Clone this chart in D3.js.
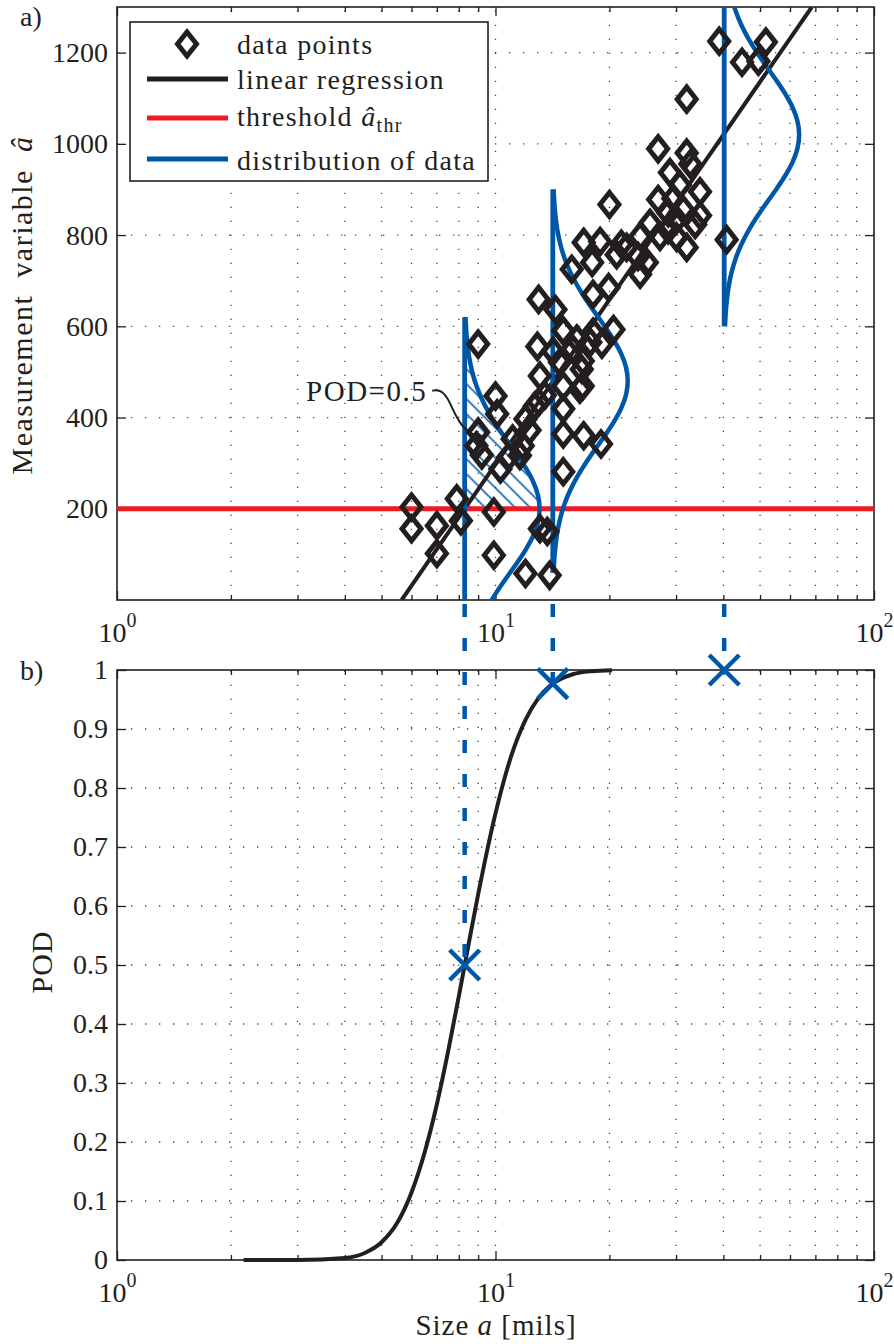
<!DOCTYPE html>
<html>
<head>
<meta charset="utf-8">
<script src="https://cdn.jsdelivr.net/npm/d3@7"></script>
<style>
  body { margin: 0; background: #fff; }
  svg { display: block; font-family: "Liberation Serif", "Times New Roman", serif; }
</style>
</head>
<body>
<svg id="chart"></svg>
<script>
// values
const sizes = [6.0, 6.0, 7.0, 7.0, 7.9, 8.1, 9.9, 9.9, 12.0, 13.9, 13.1, 13.7,
  9.0, 10.0, 10.1, 9.0, 8.9, 9.2, 10.8, 11.8, 12.0, 12.7, 10.3, 11.1,
  13.0, 14.4, 15.1, 12.9, 16.0, 17.0, 14.8, 13.1, 15.1, 17.0, 13.0, 15.1,
  15.1, 17.1, 19.0, 15.1, 16.4, 17.8, 19.1, 20.5, 18.1, 19.9, 18.1, 15.9,
  18.0, 17.1, 18.9, 20.9, 22.2, 24.1, 23.8, 25.1, 24.1, 20.0, 26.9, 28.6,
  31.3, 30.1, 33.7, 28.6, 27.2, 30.1, 32.0, 40.8, 26.9, 32.0, 32.7, 28.9,
  30.7, 34.7, 32.0, 39.0, 44.8, 49.5, 51.8, 16.7, 16.9,
  12.3, 13.5, 11.6, 25.6, 34.7, 14.2, 21.5, 29.5]
const signals = [204, 156, 163, 102, 222, 174, 193, 98, 58, 54, 156, 150,
  561, 447, 408, 368, 338, 318, 313, 338, 397, 425, 287, 353,
  659, 637, 590, 556, 550, 524, 521, 491, 469, 469, 434, 419,
  364, 360, 342, 281, 572, 565, 561, 593, 587, 685, 670, 725,
  740, 784, 786, 757, 773, 797, 753, 740, 714, 867, 878, 849,
  856, 834, 823, 812, 797, 795, 773, 790, 989, 980, 956, 937,
  910, 895, 1098, 1225, 1179, 1181, 1223, 462, 506,
  372, 449, 317, 826, 843, 545, 780, 880]

// regression line end points (size, signal)
const regSize = [5.65, 68.5]
const regSignal = [0, 1300]
const threshold = 200

// distributions of data at three sizes
const distSize = [8.29, 14.17, 40.2]
const distMean = [200, 480, 1020]
const distPod = [0.5, 0.977, 1.0]
// bell profile: offset from mean (signal units) and width (decades of size)
const bellOffset = [0, 30, 60, 90, 120, 150, 180, 210, 240, 270, 300, 330, 360, 390, 420]
const bellWidth = [0.198, 0.1935, 0.1806, 0.161, 0.1372, 0.1115, 0.0866, 0.0643, 0.0456, 0.0308, 0.0199, 0.0123, 0.0073, 0.0041, 0.0022]

// POD curve
const podSize = [2.16, 3, 4, 4.5, 5, 5.5, 6, 6.5, 7, 7.5, 8, 8.5, 9, 10, 11, 12, 13, 14, 16, 18, 20.3]
const podValue = [0, 0.0001, 0.0033, 0.0115, 0.03, 0.063, 0.1145, 0.1825, 0.264, 0.3545, 0.447, 0.537, 0.62, 0.757, 0.854, 0.9156, 0.9528, 0.9744, 0.9928, 0.998, 0.9996]

const yTicksA = [200, 400, 600, 800, 1000, 1200]
const yTicksB = [0, 0.1, 0.2, 0.3, 0.4, 0.5, 0.6, 0.7, 0.8, 0.9, 1]
const majorX = [1, 10, 100]
const minorX = [2, 3, 4, 5, 6, 7, 8, 9, 20, 30, 40, 50, 60, 70, 80, 90]

const ink = "#231f20"
const blue = "#0057a8"
const red = "#ed1c24"

const width = 894
const height = 1344
const svg = d3.select("#chart").attr("width", width).attr("height", height).style("background", "#fff")

const x = d3.scaleLog().domain([1, 100]).range([117, 874])
const yA = d3.scaleLinear().domain([0, 1300]).range([600, 7])
const yB = d3.scaleLinear().domain([0, 1]).range([1260, 670])

const defs = svg.append("defs")
defs.append("clipPath").attr("id", "clipA")
  .append("rect").attr("x", 117).attr("y", 7).attr("width", 757).attr("height", 593)
const pat = defs.append("pattern").attr("id", "hatch")
  .attr("patternUnits", "userSpaceOnUse").attr("width", 10.6).attr("height", 10.6)
  .attr("patternTransform", "rotate(-45)")
pat.append("line").attr("x1", 5.3).attr("x2", 5.3).attr("y1", 0).attr("y2", 10.6)
  .attr("stroke", blue).attr("stroke-width", 1.6)

// grid + axes for one panel
function panel(y, yTicks, yFmt) {
  const [y0, y1] = y.range()
  const g = svg.append("g")

  // dotted grid
  const grid = g.append("g").attr("stroke", "#444").attr("stroke-width", 1.3).attr("stroke-dasharray", "1.3,12.7")
  grid.selectAll(".gx").data(minorX.concat([10])).join("line")
    .attr("x1", (d) => x(d)).attr("x2", (d) => x(d)).attr("y1", y0).attr("y2", y1)
  grid.selectAll(".gy").data(yTicks.filter((d) => y(d) < y0 - 1 && y(d) > y1 + 1)).join("line")
    .attr("x1", 117).attr("x2", 874).attr("y1", (d) => y(d)).attr("y2", (d) => y(d))

  const style = (sel) => sel.attr("font-family", null).attr("font-size", 28).attr("color", ink)
    .call((s) => s.select(".domain").remove())
    .call((s) => s.selectAll(".tick line").attr("stroke-width", 1.3))

  // bottom
  const xb = g.append("g").attr("transform", `translate(0,${y0})`)
    .call(d3.axisBottom(x).tickValues(majorX).tickSizeInner(-9).tickSizeOuter(0).tickFormat(() => ""))
    .call(style)
  xb.selectAll(".tick text").attr("y", 42).attr("dy", null).text(null).each(function (d) {
    const t = d3.select(this)
    t.append("tspan").text("10")
    t.append("tspan").attr("dy", -15).attr("font-size", 20).text(Math.round(Math.log10(d)))
  })
  g.append("g").attr("transform", `translate(0,${y0})`)
    .call(d3.axisBottom(x).tickValues(minorX).tickSizeInner(-5).tickSizeOuter(0).tickFormat(""))
    .call(style)
  // top
  g.append("g").attr("transform", `translate(0,${y1})`)
    .call(d3.axisTop(x).tickValues(majorX).tickSizeInner(-9).tickSizeOuter(0).tickFormat(""))
    .call(style)
  g.append("g").attr("transform", `translate(0,${y1})`)
    .call(d3.axisTop(x).tickValues(minorX).tickSizeInner(-5).tickSizeOuter(0).tickFormat(""))
    .call(style)
  // left / right
  g.append("g").attr("transform", "translate(117,0)")
    .call(d3.axisLeft(y).tickValues(yTicks).tickSizeInner(-9).tickSizeOuter(0).tickPadding(9).tickFormat(yFmt))
    .call(style)
  g.append("g").attr("transform", "translate(874,0)")
    .call(d3.axisRight(y).tickValues(yTicks).tickSizeInner(-9).tickSizeOuter(0).tickFormat(""))
    .call(style)

  g.append("rect").attr("x", 117).attr("y", y1).attr("width", 757).attr("height", y0 - y1)
    .attr("fill", "none").attr("stroke", ink).attr("stroke-width", 1.6)
  return g
}

panel(yA, yTicksA, (d) => d)
panel(yB, yTicksB, (d) => (d === 0 || d === 1 ? d : d3.format(".1f")(d)))

// ---------- panel a ----------
const plotA = svg.append("g").attr("clip-path", "url(#clipA)")

const bell = (i) => {
  const pts = []
  for (let k = bellOffset.length - 1; k > 0; k--) pts.push([distSize[i] * Math.pow(10, bellWidth[k]), distMean[i] - bellOffset[k]])
  for (let k = 0; k < bellOffset.length; k++) pts.push([distSize[i] * Math.pow(10, bellWidth[k]), distMean[i] + bellOffset[k]])
  return pts
}
const lineA = d3.line().x((d) => x(d[0])).y((d) => yA(d[1]))

// hatched area above threshold for the first distribution
const hatchPts = []
for (let k = 0; k < bellOffset.length; k++) hatchPts.push([distSize[0] * Math.pow(10, bellWidth[k]), distMean[0] + bellOffset[k]])
hatchPts.push([distSize[0], distMean[0] + bellOffset[bellOffset.length - 1]], [distSize[0], distMean[0]])
plotA.append("path").attr("d", d3.line().x((d) => x(d[0])).y((d) => yA(d[1])).curve(d3.curveLinearClosed)(hatchPts))
  .attr("fill", "url(#hatch)").attr("stroke", blue).attr("stroke-width", 1)

// data points
const diamond = "M0,-12L9.5,0L0,12L-9.5,0Z"
svg.append("g").selectAll("path").data(d3.zip(sizes, signals)).join("path")
  .attr("d", diamond)
  .attr("transform", (d) => `translate(${x(d[0])},${yA(d[1])})`)
  .attr("fill", "none").attr("stroke", ink).attr("stroke-width", 5).attr("stroke-linejoin", "miter")

// regression line
plotA.append("path").attr("d", lineA(d3.zip(regSize, regSignal)))
  .attr("fill", "none").attr("stroke", ink).attr("stroke-width", 4)

// threshold
plotA.append("path").attr("d", lineA([[1, threshold], [100, threshold]]))
  .attr("stroke", red).attr("stroke-width", 5)

// distributions
distSize.forEach((a, i) => {
  const top = distMean[i] + bellOffset[bellOffset.length - 1]
  const bot = distMean[i] - bellOffset[bellOffset.length - 1]
  plotA.append("path").attr("d", lineA([[a, Math.max(0, bot)], [a, top]]))
    .attr("stroke", blue).attr("stroke-width", 4.8)
  plotA.append("path").attr("d", lineA.curve(d3.curveCatmullRom)(bell(i)))
    .attr("fill", "none").attr("stroke", blue).attr("stroke-width", 4.5)
  lineA.curve(d3.curveLinear)
})

// annotation POD=0.5
const tx = x(6.6), ty = yA(437)
svg.append("text").attr("x", tx).attr("y", ty).attr("text-anchor", "end")
  .attr("font-size", 29).attr("letter-spacing", 1.5).attr("fill", ink).text("POD=0.5")
const ex = x(9.4), ey = yA(355)
svg.append("path")
  .attr("d", `M${tx + 5},${ty - 10} C${tx + 20},${ty - 13} ${tx + 22},${ty + 4} ${tx + 30},${ty + 17} C${tx + 37},${ty + 30} ${ex - 14},${ey - 3} ${ex},${ey}`)
  .attr("fill", "none").attr("stroke", ink).attr("stroke-width", 2)
svg.append("path").attr("d", `M${ex},${ey}l-9,-7l1,6l-3,5z`).attr("fill", ink)

// ---------- panel b ----------
svg.append("path").attr("d", d3.line().x((d) => x(d[0])).y((d) => yB(d[1])).curve(d3.curveMonotoneX)(d3.zip(podSize, podValue)))
  .attr("fill", "none").attr("stroke", ink).attr("stroke-width", 4)

// dashed connectors and markers
distSize.forEach((a, i) => {
  svg.append("line").attr("x1", x(a)).attr("x2", x(a)).attr("y1", yA(0)).attr("y2", yB(distPod[i]))
    .attr("stroke", blue).attr("stroke-width", 4.5).attr("stroke-dasharray", "13,21").attr("stroke-dashoffset", -4)
  svg.append("path").attr("d", "M-15,-15L15,15M-15,15L15,-15")
    .attr("transform", `translate(${x(a)},${yB(distPod[i])})`)
    .attr("stroke", blue).attr("stroke-width", 4.5)
})

// legend
const leg = svg.append("g").attr("font-size", 28).attr("fill", ink).attr("letter-spacing", 1.3)
leg.append("rect").attr("x", 130).attr("y", 22).attr("width", 358).attr("height", 159)
  .attr("fill", "#fff").attr("stroke", ink).attr("stroke-width", 1.6)
leg.append("path").attr("d", diamond).attr("transform", "translate(187,44)")
  .attr("fill", "none").attr("stroke", ink).attr("stroke-width", 5)
const legLines = [[79, ink], [118, red], [159, blue]]
legLines.forEach(([ly, c]) => leg.append("line").attr("x1", 147).attr("x2", 228).attr("y1", ly).attr("y2", ly).attr("stroke", c).attr("stroke-width", 5))
leg.append("text").attr("x", 237).attr("y", 54).text("data points")
leg.append("text").attr("x", 237).attr("y", 89).text("linear regression")
const thr = leg.append("text").attr("x", 237).attr("y", 126)
thr.append("tspan").text("threshold ")
thr.append("tspan").attr("font-style", "italic").text("â")
thr.append("tspan").attr("font-size", 20).attr("dy", 6).text("thr")
leg.append("text").attr("x", 237).attr("y", 170).text("distribution of data")

// labels
svg.append("text").attr("x", 20).attr("y", 26).attr("font-size", 28).attr("fill", ink).text("a)")
svg.append("text").attr("x", 20).attr("y", 680).attr("font-size", 28).attr("fill", ink).text("b)")
const yl = svg.append("text").attr("transform", "translate(32,305) rotate(-90)").attr("text-anchor", "middle")
  .attr("font-size", 30).attr("fill", ink).attr("letter-spacing", 1.5).attr("word-spacing", 8)
yl.append("tspan").text("Measurement variable ")
yl.append("tspan").attr("font-style", "italic").text("â")
svg.append("text").attr("transform", "translate(52,962) rotate(-90)").attr("text-anchor", "middle")
  .attr("font-size", 30).attr("letter-spacing", 1).attr("fill", ink).text("POD")
const xl = svg.append("text").attr("x", 496).attr("y", 1335).attr("text-anchor", "middle")
  .attr("font-size", 29).attr("letter-spacing", 1).attr("fill", ink)
xl.append("tspan").text("Size ")
xl.append("tspan").attr("font-style", "italic").text("a")
xl.append("tspan").text(" [mils]")
</script>
</body>
</html>
